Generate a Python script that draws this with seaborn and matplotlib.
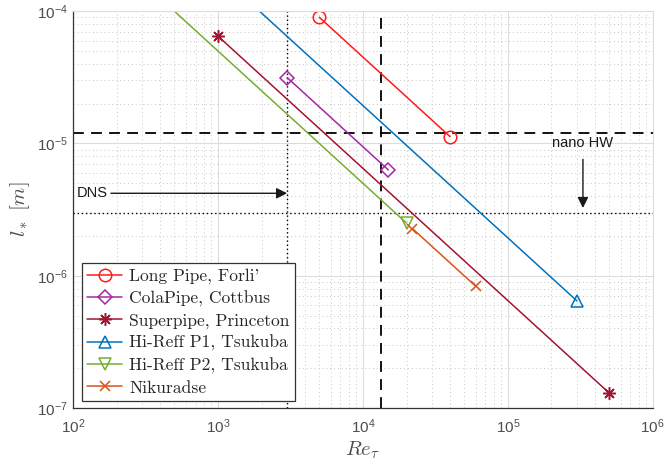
import numpy as np
import pandas as pd
import matplotlib
matplotlib.use("Agg")
import matplotlib.pyplot as plt
from matplotlib.ticker import FixedLocator, FixedFormatter, LogLocator, NullFormatter
import seaborn as sns

# Viscous length scale l* = R / Re_tau for each facility (endpoints of the Re_tau range)
re_longpipe = [5000, 40000]
l_longpipe = [9.0e-5, 1.125e-5]

re_colapipe = [3000, 15000]
l_colapipe = [3.15e-5, 6.3e-6]

re_superpipe = [1000, 500000]
l_superpipe = [6.48e-5, 1.3e-7]

re_hireff_p1 = [1000, 300000]
l_hireff_p1 = [1.935e-4, 6.45e-7]

re_hireff_p2 = [250, 20000]
l_hireff_p2 = [2.0e-4, 2.5e-6]

re_nikuradse = [22000, 60000]
l_nikuradse = [2.27e-6, 8.33e-7]

series_names = ["Long Pipe, Forli'", "ColaPipe, Cottbus", "Superpipe, Princeton",
                "Hi-Reff P1, Tsukuba", "Hi-Reff P2, Tsukuba", "Nikuradse"]

# Reference limits
l_nanohw = 1.2e-5        # smallest resolvable length (nano hot wire)
re_limit = 1.33e4        # Re_tau where the nano HW limit is reached
l_dns = 3.0e-6
re_dns = 3000

x_ticks = [1e2, 1e3, 1e4, 1e5, 1e6]
x_ticklabels = [r"$\mathregular{10^{2}}$", r"$\mathregular{10^{3}}$", r"$\mathregular{10^{4}}$",
                r"$\mathregular{10^{5}}$", r"$\mathregular{10^{6}}$"]
y_ticks = [1e-7, 1e-6, 1e-5, 1e-4]
y_ticklabels = [r"$\mathregular{10^{-7}}$", r"$\mathregular{10^{-6}}$",
                r"$\mathregular{10^{-5}}$", r"$\mathregular{10^{-4}}$"]

sns.set_style("white")
plt.rcParams["font.family"] = ["Liberation Sans", "DejaVu Sans"]
plt.rcParams["mathtext.fontset"] = "cm"

fig = plt.figure(figsize=(6.64, 4.66), dpi=100)
ax = fig.add_axes([0.110, 0.1245, 0.873, 0.8515])

asterisk = (8, 2, 0)
series = [
    (re_longpipe, l_longpipe, "o", "#FF1A1A"),
    (re_colapipe, l_colapipe, "D", "#A626A8"),
    (re_superpipe, l_superpipe, asterisk, "#A2142F"),
    (re_hireff_p1, l_hireff_p1, "^", "#0072BD"),
    (re_hireff_p2, l_hireff_p2, "v", "#77AC30"),
    (re_nikuradse, l_nikuradse, "x", "#D95319"),
]
msize = [9, 7.5, 9, 9, 9, 7]

for (re, lv, mk, col), name, ms in zip(series, series_names, msize):
    df = pd.DataFrame({"Re": re, "l": lv})
    kw = dict(markerfacecolor="none") if mk not in ("x", asterisk) else {}
    sns.lineplot(data=df, x="Re", y="l", ax=ax, color=col, marker=mk,
                 markersize=ms, markeredgecolor=col, markeredgewidth=1.1,
                 linewidth=1.1, label=name, **kw)

ax.set_xscale("log")
ax.set_yscale("log")
ax.set_xlim(1e2, 1e6)
ax.set_ylim(1e-7, 1e-4)

# Limits of measurement resolution
ax.axhline(l_nanohw, color="black", lw=1.3, ls=(0, (6, 4)), zorder=1.5)
ax.axvline(re_limit, color="black", lw=1.3, ls=(0, (6, 4)), zorder=1.5)
ax.axhline(l_dns, color="black", lw=1.0, ls=(0, (1, 2)), zorder=1.5)
ax.axvline(re_dns, color="black", lw=1.0, ls=(0, (1, 2)), zorder=1.5)

# Grid
ax.grid(True, which="major", color="#DCDCDC", lw=0.8, ls="-")
ax.grid(True, which="minor", color="#C8C8C8", lw=0.7, ls=(0, (1, 3)))
ax.set_axisbelow(True)

ax.xaxis.set_major_locator(FixedLocator(x_ticks))
ax.xaxis.set_major_formatter(FixedFormatter(x_ticklabels))
ax.yaxis.set_major_locator(FixedLocator(y_ticks))
ax.yaxis.set_major_formatter(FixedFormatter(y_ticklabels))
ax.xaxis.set_minor_locator(LogLocator(base=10, subs=np.arange(2, 10), numticks=20))
ax.yaxis.set_minor_locator(LogLocator(base=10, subs=np.arange(2, 10), numticks=20))
ax.xaxis.set_minor_formatter(NullFormatter())
ax.yaxis.set_minor_formatter(NullFormatter())

ax.tick_params(which="both", direction="in", colors="#333333", labelcolor="#4D4D4D",
               labelsize=11, top=False, right=False)
ax.tick_params(which="major", length=4.5, width=0.8)
ax.tick_params(which="minor", length=2.5, width=0.6)
ax.tick_params(axis="x", pad=7)

for side in ("left", "bottom"):
    ax.spines[side].set_color("#333333")
    ax.spines[side].set_linewidth(0.9)
for side in ("top", "right"):
    ax.spines[side].set_color("#DCDCDC")
    ax.spines[side].set_linewidth(0.8)

ax.set_xlabel(r"$Re_\tau$", fontsize=15, color="#4D4D4D", labelpad=2)
ax.set_ylabel(r"$l_*\ [m]$", fontsize=15, color="#4D4D4D", labelpad=4)

# Annotations
ax.annotate("DNS", xy=(re_dns, 4.2e-6), xytext=(106, 4.2e-6), ha="left", va="center",
            fontsize=10.5, color="#1A1A1A",
            arrowprops=dict(arrowstyle="-|>", color="#1A1A1A", lw=1.0,
                            mutation_scale=16, shrinkA=0, shrinkB=0))
ax.annotate("nano HW", xy=(3.3e5, 3.25e-6), xytext=(3.3e5, 1.0e-5), ha="center", va="center",
            fontsize=10.5, color="#1A1A1A",
            arrowprops=dict(arrowstyle="-|>", color="#1A1A1A", lw=1.0,
                            mutation_scale=16, shrinkA=4, shrinkB=0))

leg = ax.legend(loc="lower left", bbox_to_anchor=(0.0155, 0.018), borderaxespad=0,
                prop={"family": "cmr10", "size": 12.6}, labelspacing=0.36,
                handlelength=2.0, handletextpad=0.4, borderpad=0.3,
                frameon=True, fancybox=False, framealpha=1.0)
leg.get_frame().set_edgecolor("#333333")
leg.get_frame().set_linewidth(0.9)

fig.savefig("out.png", dpi=100)
